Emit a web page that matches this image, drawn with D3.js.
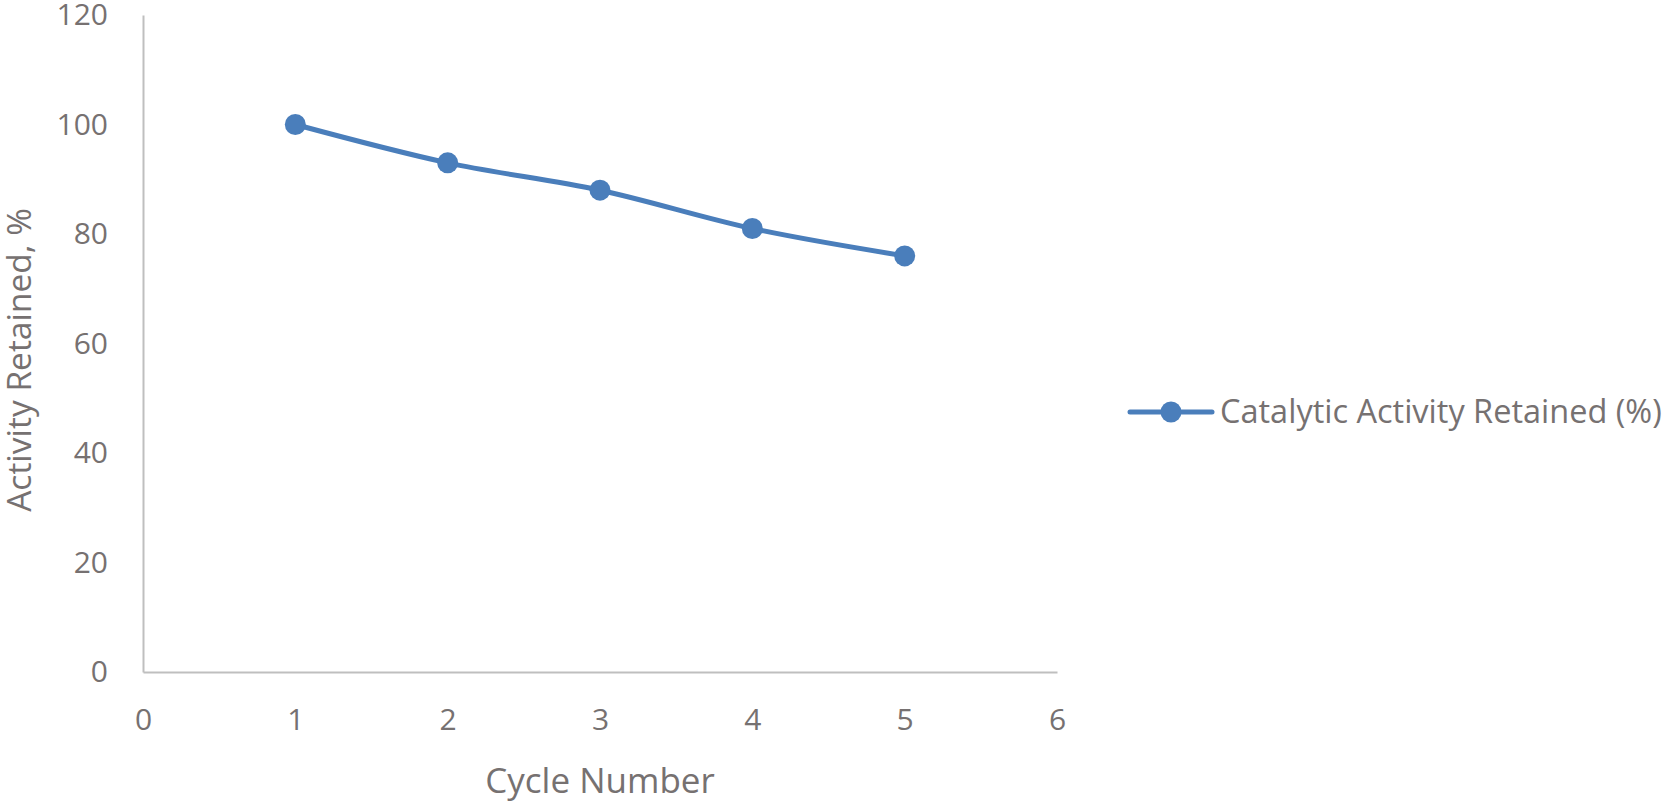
<!DOCTYPE html>
<html>
<head>
<meta charset="utf-8">
<script src="https://cdn.jsdelivr.net/npm/d3@7"></script>
<style>
  html, body { margin: 0; padding: 0; background: #ffffff; }
  svg { display: block; }
  text { font-family: "Open Sans", "Noto Sans", sans-serif; fill: #767171; }
</style>
</head>
<body>
<svg id="chart" width="1667" height="802"></svg>
<script>
const cycles = [1, 2, 3, 4, 5];
const activity = [100, 93, 88, 81, 76];
const xTicks = [0, 1, 2, 3, 4, 5, 6];
const yTicks = [0, 20, 40, 60, 80, 100, 120];
const seriesName = "Catalytic Activity Retained (%)";
const xTitle = "Cycle Number";
const yTitle = "Activity Retained, %";

const svg = d3.select("#chart");
const x = d3.scaleLinear().domain([0, 6]).range([143, 1057]);
const y = d3.scaleLinear().domain([0, 120]).range([672, 15]);
const blue = "#4a7ebb";
const axisColor = "#bfbfbf";
const textColor = "#767171";

// axes
const gx = svg.append("g").attr("transform", `translate(0,${y(0)})`)
  .call(d3.axisBottom(x).tickValues(xTicks).tickFormat(d3.format("d")).tickSize(0).tickPadding(37));
const gy = svg.append("g").attr("transform", `translate(${x(0)},0)`)
  .call(d3.axisLeft(y).tickValues(yTicks).tickFormat(d3.format("d")).tickSize(0).tickPadding(35));
[gx, gy].forEach(g => {
  g.select(".domain").attr("stroke", axisColor).attr("stroke-width", 2);
  g.selectAll("text").attr("font-size", 30).attr("fill", textColor)
    .attr("font-family", "'Open Sans', sans-serif");
});

// line
const line = d3.line()
  .x((d, i) => x(cycles[i]))
  .y(d => y(d))
  .curve(d3.curveCardinal.tension(0));
svg.append("path").datum(activity)
  .attr("d", line)
  .attr("fill", "none")
  .attr("stroke", blue)
  .attr("stroke-width", 5)
  .attr("stroke-linecap", "round");
svg.append("g").selectAll("circle").data(activity).join("circle")
  .attr("cx", (d, i) => x(cycles[i]))
  .attr("cy", d => y(d))
  .attr("r", 10.5)
  .attr("fill", blue);

// axis titles
svg.append("text")
  .attr("x", 600).attr("y", 793)
  .attr("text-anchor", "middle")
  .attr("font-size", 35)
  .text(xTitle);
svg.append("text")
  .attr("transform", `translate(31,360) rotate(-90)`)
  .attr("text-anchor", "middle")
  .attr("font-size", 33.5)
  .text(yTitle);

// legend
const lg = svg.append("g").attr("transform", "translate(1130,412)");
lg.append("line").attr("x1", 0).attr("x2", 82).attr("y1", 0).attr("y2", 0)
  .attr("stroke", blue).attr("stroke-width", 5).attr("stroke-linecap", "round");
lg.append("circle").attr("cx", 41).attr("cy", 0).attr("r", 10.5).attr("fill", blue);
lg.append("text").attr("x", 90).attr("y", 0).attr("dy", "0.35em")
  .attr("font-size", 32.5)
  .text(seriesName);
</script>
</body>
</html>
